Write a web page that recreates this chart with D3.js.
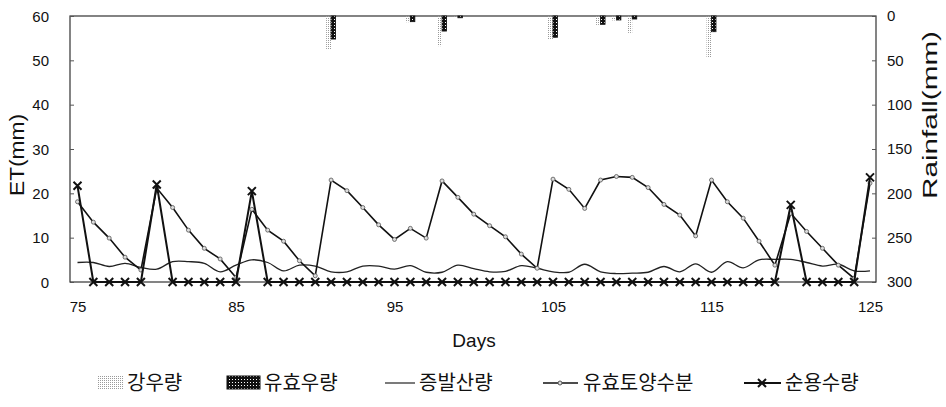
<!DOCTYPE html>
<html><head><meta charset="utf-8">
<script src="https://cdn.jsdelivr.net/npm/d3@7"></script>
<style>
body{margin:0;background:#fff;}
svg{display:block;}
text{font-family:"Liberation Sans","Noto Sans CJK KR",sans-serif;fill:#111;}
.kr{font-family:"Noto Sans CJK KR","Liberation Sans",sans-serif;}
</style></head>
<body><svg id="c" width="946" height="407"></svg>
<script>
const days = [75,76,77,78,79,80,81,82,83,84,85,86,87,88,89,90,91,92,93,94,95,96,97,98,99,100,
  101,102,103,104,105,106,107,108,109,110,111,112,113,114,115,116,117,118,119,120,121,122,123,124,125];
const et = [4.4,4.4,3.5,4.2,3.3,2.9,4.6,4.6,4.2,2.3,3.8,5.0,4.4,2.5,3.8,3.6,2.3,2.3,3.6,3.6,2.9,3.7,2.2,2.2,3.8,3.0,
  2.3,2.4,3.7,3.1,2.3,2.2,4.0,2.3,1.9,2.0,2.2,3.5,2.3,4.1,2.2,4.6,3.2,5.0,5.1,5.1,4.4,3.6,4.0,2.5,2.5];
const soil = [18.1,13.5,9.9,5.6,2.7,21.2,16.8,11.7,7.6,5.2,1.0,16.4,11.7,9.2,4.8,1.4,23.0,20.6,16.8,12.9,9.6,12.1,9.9,22.8,19.1,15.3,
  12.7,10.2,6.3,3.1,23.2,20.9,16.6,23.0,23.8,23.6,21.3,17.5,15.1,10.4,23.0,18.1,14.4,9.2,3.8,15.5,11.4,7.6,3.8,0.8,22.3];
const netIrr = [21.7,0,0,0,0,22.0,0,0,0,0,0,20.5,0,0,0,0,0,0,0,0,0,0,0,0,0,0,
  0,0,0,0,0,0,0,0,0,0,0,0,0,0,0,0,0,0,0,17.4,0,0,0,0,23.6];
const rainDays = [91,96,98,99,105,108,109,110,115];
const rainfall = [38,7,34,2,27,10,5,19,47];
const effRain = [26,6.4,17,2,24,9.4,4.5,3.4,17.7];
const etTicks = [0,10,20,30,40,50,60];
const rainTicks = [0,50,100,150,200,250,300];
const dayTicks = [75,85,95,105,115,125];
const legendLabels = ["강우량","유효우량","증발산량","유효토양수분","순용수량"];

const svg = d3.select("#c");
const L=70, R=876, T=16, B=282;
const x = d3.scaleLinear().domain([75,125]).range([77.5,870]);
const y = d3.scaleLinear().domain([0,60]).range([B,T]);
const yr = d3.scaleLinear().domain([0,300]).range([T,B]);

const defs = svg.append("defs");
const pg = defs.append("pattern").attr("id","gdot").attr("width",2).attr("height",2).attr("patternUnits","userSpaceOnUse");
pg.append("rect").attr("width",1).attr("height",1).attr("fill","#9a9a9a");
const pb = defs.append("pattern").attr("id","bhat").attr("width",3).attr("height",3).attr("patternUnits","userSpaceOnUse");
pb.append("rect").attr("width",3).attr("height",3).attr("fill","#111");
pb.append("rect").attr("x",1).attr("y",1).attr("width",1).attr("height",1).attr("fill","#fff");

// frame
svg.append("rect").attr("x",L).attr("y",T).attr("width",R-L).attr("height",B-T)
  .attr("fill","none").attr("stroke","#333").attr("stroke-width",1.2);

// axes
const gl = svg.append("g").attr("transform",`translate(${L},0)`)
  .call(d3.axisLeft(y).tickValues(etTicks).tickSizeInner(-4).tickSizeOuter(0).tickPadding(21));
const gr = svg.append("g").attr("transform",`translate(${R},0)`)
  .call(d3.axisRight(yr).tickValues(rainTicks).tickSizeInner(-4).tickSizeOuter(0).tickPadding(11));
const gb = svg.append("g").attr("transform",`translate(0,${B})`)
  .call(d3.axisBottom(x).tickValues(dayTicks).tickSizeInner(0).tickSizeOuter(0).tickPadding(19));
[gl,gr,gb].forEach(g=>{
  g.select(".domain").remove();
  g.selectAll("line").attr("stroke","#555");
  g.selectAll("text").style("font-size","15px").attr("fill","#111")
   .style("font-family","'Liberation Sans',sans-serif");
});
gl.selectAll("text").attr("dy","0.35em");
gr.selectAll("text").attr("text-anchor","start");

// axis titles
svg.append("text").attr("transform","translate(24,155) rotate(-90)").attr("text-anchor","middle")
  .style("font-size","20px").attr("textLength",82).attr("lengthAdjust","spacingAndGlyphs").text("ET(mm)");
svg.append("text").attr("transform","translate(937,115) rotate(-90)").attr("text-anchor","middle")
  .style("font-size","20px").attr("textLength",168).attr("lengthAdjust","spacingAndGlyphs").text("Rainfall(mm)");
svg.append("text").attr("x",474).attr("y",347).attr("text-anchor","middle")
  .style("font-size","19px").text("Days");

// rainfall bars
const rd = rainDays.map((d,i)=>({d, r:rainfall[i], e:effRain[i]}));
svg.append("g").selectAll("rect").data(rd).join("rect")
  .attr("x",d=>x(d.d)-5).attr("y",T).attr("width",5).attr("height",d=>yr(d.r)-T)
  .attr("fill","url(#gdot)");
svg.append("g").selectAll("rect").data(rd).join("rect")
  .attr("x",d=>x(d.d)).attr("y",T).attr("width",4.5).attr("height",d=>yr(d.e)-T)
  .attr("fill","url(#bhat)").attr("stroke","#111").attr("stroke-width",0.8);

// ET line
const pts = (arr)=>days.map((d,i)=>[x(d),y(arr[i])]);
svg.append("path").attr("d",d3.line().curve(d3.curveCatmullRom)(pts(et)))
  .attr("fill","none").attr("stroke","#222").attr("stroke-width",1.3);

// soil moisture
svg.append("path").attr("d",d3.line()(pts(soil)))
  .attr("fill","none").attr("stroke","#111").attr("stroke-width",1.6);
svg.append("g").selectAll("circle").data(pts(soil)).join("circle")
  .attr("cx",d=>d[0]).attr("cy",d=>d[1]).attr("r",2)
  .attr("fill","#ddd").attr("stroke","#555").attr("stroke-width",0.8);

// net irrigation
svg.append("path").attr("d",d3.line()(pts(netIrr)))
  .attr("fill","none").attr("stroke","#111").attr("stroke-width",2);
const xm = 4;
svg.append("g").selectAll("path").data(pts(netIrr)).join("path")
  .attr("d",d=>`M${d[0]-xm},${d[1]-xm}L${d[0]+xm},${d[1]+xm}M${d[0]-xm},${d[1]+xm}L${d[0]+xm},${d[1]-xm}`)
  .attr("stroke","#111").attr("stroke-width",2).attr("fill","none");

// legend
const lg = svg.append("g");
const ly = 383;
lg.append("rect").attr("x",97).attr("y",ly-7).attr("width",26).attr("height",13).attr("fill","url(#gdot)");
lg.append("rect").attr("x",227).attr("y",ly-7).attr("width",33).attr("height",13).attr("fill","url(#bhat)").attr("stroke","#111");
lg.append("line").attr("x1",385).attr("x2",415).attr("y1",ly).attr("y2",ly).attr("stroke","#333").attr("stroke-width",1.3);
lg.append("line").attr("x1",543).attr("x2",578).attr("y1",ly).attr("y2",ly).attr("stroke","#111").attr("stroke-width",1.6);
lg.append("circle").attr("cx",560).attr("cy",ly).attr("r",2).attr("fill","#ddd").attr("stroke","#555");
lg.append("line").attr("x1",744).attr("x2",781).attr("y1",ly).attr("y2",ly).attr("stroke","#111").attr("stroke-width",2);
lg.append("path").attr("d",`M${762-xm},${ly-xm}L${762+xm},${ly+xm}M${762-xm},${ly+xm}L${762+xm},${ly-xm}`)
  .attr("stroke","#111").attr("stroke-width",2);
const lx = [127,264,419,583,785];
lg.selectAll("text.kr").data(legendLabels).join("text").attr("class","kr")
  .attr("x",(d,i)=>lx[i]).attr("y",ly).attr("dy","0.36em").style("font-size","20px").text(d=>d);
</script></body></html>
